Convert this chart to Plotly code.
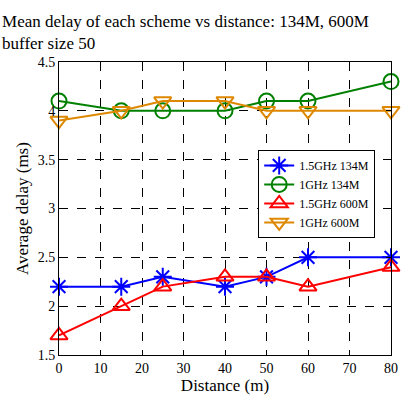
import plotly.graph_objects as go

x_vals = [0, 15, 25, 40, 50, 60, 80]
s1_name = "1.5GHz 134M"
s1 = [2.2, 2.2, 2.3, 2.2, 2.3, 2.5, 2.5]
s2_name = "1GHz 134M"
s2 = [4.1, 4.0, 4.0, 4.0, 4.1, 4.1, 4.3]
s3_name = "1.5GHz 600M"
s3 = [1.7, 2.0, 2.2, 2.3, 2.3, 2.2, 2.4]
s4_name = "1GHz 600M"
s4 = [3.9, 4.0, 4.1, 4.1, 4.0, 4.0, 4.0]

title_text = "Mean delay of each scheme vs distance: 134M, 600M<br>buffer size 50"
x_title = "Distance (m)"
y_title = "Average delay (ms)"

FONT = "Liberation Serif"

series = [
    (s1_name, s1, "#0000FF", "asterisk-open"),
    (s2_name, s2, "#008000", "circle-open"),
    (s3_name, s3, "#FF0000", "triangle-up-open"),
    (s4_name, s4, "#DD8800", "triangle-down-open"),
]

fig = go.Figure()
for name, ys, col, sym in series:
    fig.add_trace(go.Scatter(
        x=x_vals, y=ys, name=name, mode="lines+markers",
        line=dict(color=col, width=2),
        marker=dict(symbol=sym, size=15, color=col, line=dict(color=col, width=2)),
        cliponaxis=False,
    ))

axis_common = dict(
    showline=True, linecolor="black", linewidth=1, mirror="ticks",
    ticks="inside", ticklen=5, tickcolor="black",
    showgrid=True, gridcolor="black", gridwidth=1, griddash="dash",
    zeroline=False,
    tickfont=dict(family=FONT, size=14, color="black"),
)

fig.update_layout(
    width=410, height=402,
    margin=dict(l=59, r=13, t=62, b=42),
    paper_bgcolor="white", plot_bgcolor="white",
    title=dict(text=title_text, x=0.005, xanchor="left", xref="container",
               y=0.933, yanchor="top", yref="container",
               font=dict(family=FONT, size=17, color="black")),
    xaxis=dict(range=[0, 80], dtick=10, tick0=0,
               title=dict(text=x_title, font=dict(family=FONT, size=17, color="black"), standoff=2),
               **axis_common),
    yaxis=dict(range=[1.5, 4.5], dtick=0.5, tick0=1.5,
               title=dict(text=y_title, font=dict(family=FONT, size=17, color="black"), standoff=4),
               **axis_common),
    legend=dict(x=0.60, y=0.70, xanchor="left", yanchor="top",
                bgcolor="white", bordercolor="black", borderwidth=1,
                font=dict(family=FONT, size=12, color="black"),
                tracegroupgap=0, itemwidth=30),
    showlegend=True,
)

fig.write_html("out.html")
